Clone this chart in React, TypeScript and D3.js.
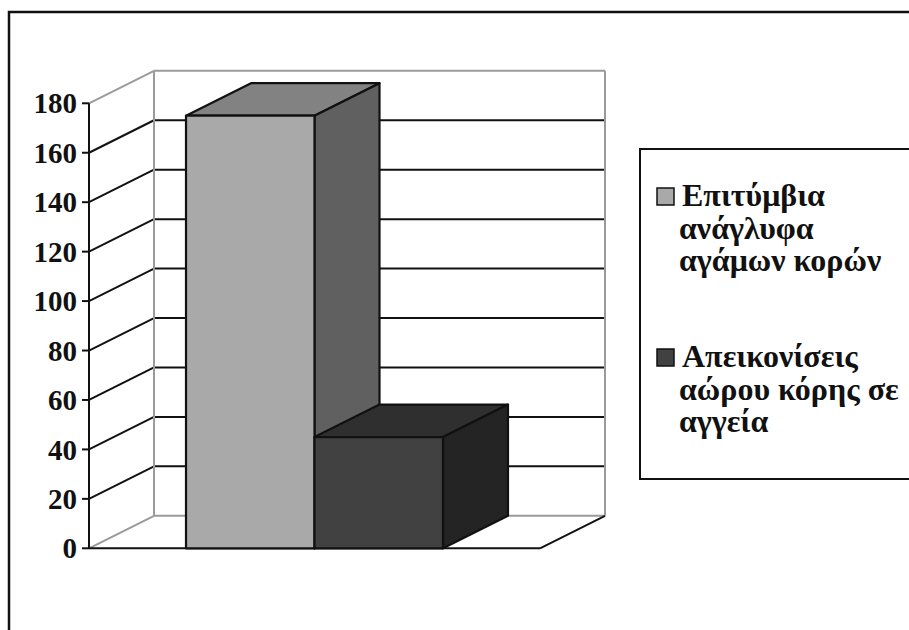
import React from "react";
import * as d3 from "d3";

const seriesNames = ["Επιτύμβια ανάγλυφα αγάμων κορών", "Απεικονίσεις αώρου κόρης σε αγγεία"];
const seriesLegendLines = [
  ["Επιτύμβια", "ανάγλυφα", "αγάμων κορών"],
  ["Απεικονίσεις", "αώρου κόρης σε", "αγγεία"],
];
const seriesValues = [175, 45];
const yTicks = [0, 20, 40, 60, 80, 100, 120, 140, 160, 180];

const faceColors = [
  { front: "#a9a9a9", top: "#828282", side: "#606060" },
  { front: "#414141", top: "#2f2f2f", side: "#242424" },
];

const W = 909;
const H = 630;
const DX = 65;
const DY = 32.5;
const FONT = "'Liberation Serif', 'Times New Roman', serif";

export default function App() {
  const y = d3.scaleLinear().domain([0, 180]).range([548.3, 103.3]);
  const floorLeft = 89;
  const floorRight = 540;
  const x = d3.scaleBand<string>().domain(seriesNames).range([floorLeft, floorRight]).paddingInner(0).paddingOuter(0.755);

  const P = (px: number, v: number, t: number): [number, number] => [px + t * DX, y(v) - t * DY];
  const poly = (pts: [number, number][]) => pts.map((p) => p.join(",")).join(" ");

  const gray = "#9a9a9a";
  const backRight = floorRight + DX;

  return (
    <svg width={W} height={H} style={{ position: "absolute", left: 0, top: 0, background: "#fff" }}>
      {/* outer frame */}
      <rect x={9} y={12} width={960} height={700} fill="none" stroke="#111" strokeWidth={2.5} />

      {/* back wall grid lines */}
      {yTicks.map((t) => {
        const edge = t === 0 || t === 180;
        const [x1, y1] = P(floorLeft, t, 1);
        return (
          <line key={"bg" + t} x1={x1} y1={y1} x2={backRight} y2={y1} stroke={edge ? gray : "#111"} strokeWidth={2} />
        );
      })}
      {/* left wall diagonals */}
      {yTicks.map((t) => {
        const edge = t === 0 || t === 180;
        const [x0, y0] = P(floorLeft, t, 0);
        const [x1, y1] = P(floorLeft, t, 1);
        return <line key={"lg" + t} x1={x0} y1={y0} x2={x1} y2={y1} stroke={edge ? gray : "#111"} strokeWidth={2} />;
      })}
      {/* back wall verticals */}
      <line x1={P(floorLeft, 0, 1)[0]} y1={P(floorLeft, 0, 1)[1]} x2={P(floorLeft, 180, 1)[0]} y2={P(floorLeft, 180, 1)[1]} stroke={gray} strokeWidth={2} />
      <line x1={backRight} y1={P(floorLeft, 0, 1)[1]} x2={backRight} y2={P(floorLeft, 180, 1)[1]} stroke={gray} strokeWidth={2} />

      {/* floor front + right edge */}
      <line x1={floorLeft} y1={y(0)} x2={floorRight} y2={y(0)} stroke="#111" strokeWidth={2} />
      <line x1={floorRight} y1={y(0)} x2={P(floorRight, 0, 1)[0]} y2={P(floorRight, 0, 1)[1]} stroke="#111" strokeWidth={2} />

      {/* bars */}
      {seriesNames.map((s, i) => {
        const x0 = x(s)!;
        const x1 = x0 + x.bandwidth();
        const v = seriesValues[i];
        const c = faceColors[i];
        return (
          <g key={s} stroke="#111" strokeWidth={2.2} strokeLinejoin="round">
            <polygon points={poly([P(x0, v, 0), P(x1, v, 0), P(x1, v, 1), P(x0, v, 1)])} fill={c.top} />
            <polygon points={poly([P(x1, 0, 0), P(x1, v, 0), P(x1, v, 1), P(x1, 0, 1)])} fill={c.side} />
            <polygon points={poly([P(x0, 0, 0), P(x1, 0, 0), P(x1, v, 0), P(x0, v, 0)])} fill={c.front} />
          </g>
        );
      })}

      {/* y axis */}
      <line x1={floorLeft} y1={y(0)} x2={floorLeft} y2={y(180)} stroke="#111" strokeWidth={2} />
      {yTicks.map((t) => (
        <g key={"t" + t}>
          <line x1={floorLeft - 7} y1={y(t)} x2={floorLeft} y2={y(t)} stroke="#111" strokeWidth={2} />
          <text x={77} y={y(t)} dy="0.35em" textAnchor="end" fontFamily={FONT} fontWeight="bold" fontSize={29} fill="#111">
            {t}
          </text>
        </g>
      ))}

      {/* legend */}
      <rect x={640} y={149} width={320} height={330} fill="#fff" stroke="#111" strokeWidth={2} />
      {seriesLegendLines.map((lines, i) => {
        const baseY = i === 0 ? 206 : 367;
        return (
          <g key={"lg" + i}>
            <rect x={657} y={baseY - 18} width={17} height={17} fill={faceColors[i].front} stroke="#111" strokeWidth={1.5} />
            {lines.map((ln, j) => (
              <text key={j} x={j === 0 ? 682 : 679} y={baseY + j * 32.5} fontFamily={FONT} fontWeight="bold" fontSize={32} fill="#111">
                {ln}
              </text>
            ))}
          </g>
        );
      })}
    </svg>
  );
}
